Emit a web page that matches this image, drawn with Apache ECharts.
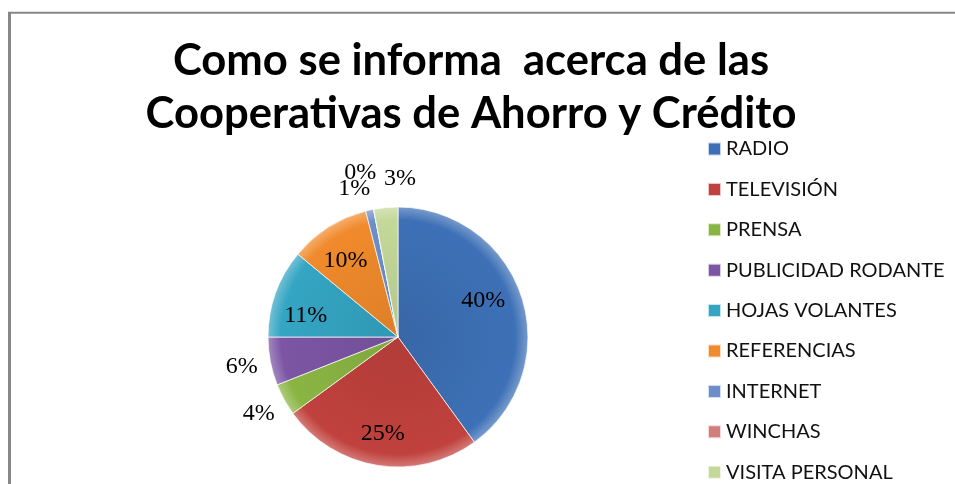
<!DOCTYPE html>
<html>
<head>
<meta charset="utf-8">
<script src="https://cdn.jsdelivr.net/npm/echarts@6/dist/echarts.min.js"></script>
<style>
  html, body { margin: 0; padding: 0; background: #fff; }
  #show_picture { width: 955px; height: 484px; }
</style>
</head>
<body>
<div id="show_picture"></div>
<script>
const categories = ['RADIO', 'TELEVISIÓN', 'PRENSA', 'PUBLICIDAD RODANTE', 'HOJAS VOLANTES',
  'REFERENCIAS', 'INTERNET', 'WINCHAS', 'VISITA PERSONAL'];
const percentages = [40, 25, 4, 6, 11, 10, 1, 0, 3];
const colors = ['#3d70b6', '#c0413d', '#8ab543', '#7c55a4', '#34a5c3',
  '#f08a2c', '#6d8ec9', '#d27e7c', '#c4d898'];
// which labels go outside the pie (small slices)
const outsideLabel = [false, false, true, true, false, false, true, true, true];

let show_picture = document.getElementById('show_picture');
let myChart = echarts.init(show_picture);

const cx = 398, cy = 337, R = 130;
const total = percentages.reduce((a, b) => a + b, 0);

function shade(hex, k) {
  let n = parseInt(hex.slice(1), 16);
  let r = (n >> 16) & 255, g = (n >> 8) & 255, b = n & 255;
  const f = c => Math.max(0, Math.min(255, Math.round(k > 0 ? c + (255 - c) * k : c * (1 + k))));
  return 'rgb(' + f(r) + ',' + f(g) + ',' + f(b) + ')';
}

// move a label up (dy < 0) or down (dy > 0) with an empty rich line
function nudge(item, dy, pad) {
  let h = Math.abs(dy) * 2;
  if (dy) {
    item.label.formatter = dy > 0 ? '{s| }\n{d}%' : '{d}%\n{s| }';
    item.label.rich = { s: { lineHeight: h, fontSize: 1 } };
  }
  if (pad) item.label.padding = pad;
}

const serif = { fontFamily: 'Liberation Serif', fontSize: 24, color: '#000' };

let d = [];
let inner = [];
let outer = [];
let legendData = [];
for (let i = 0; i < categories.length; i++) {
  d.push({
    name: categories[i],
    value: percentages[i],
    itemStyle: {
      color: {
        type: 'radial', x: cx, y: cy, r: R, global: true,
        colorStops: [
          { offset: 0, color: shade(colors[i], -0.08) },
          { offset: 0.9, color: colors[i] },
          { offset: 1, color: shade(colors[i], 0.3) }
        ]
      }
    }
  });
  inner.push({ name: categories[i], value: percentages[i], label: { show: !outsideLabel[i] } });
  outer.push({ name: categories[i], value: percentages[i], label: { show: outsideLabel[i] } });
  legendData.push({ name: categories[i], itemStyle: { color: colors[i] } });
}
nudge(inner[0], -6, [0, 16, 0, 0]);
nudge(inner[4], 12);
nudge(inner[5], 6);
nudge(outer[8], 0, [0, 0, 0, 34]);

// a zero slice gets no label of its own, so WINCHAS shares the INTERNET label box
const winchasPct = Math.round(percentages[7] / total * 100);
outer[7].label.show = false;
outer[6].label = {
  show: true,
  padding: [0, 18, 0, 0],
  formatter: '{z|' + winchasPct + '%}\n{o|{d}%}\n{s| }',
  rich: {
    z: Object.assign({ lineHeight: 16, padding: [0, 0, 0, 12] }, serif),
    o: Object.assign({ lineHeight: 16 }, serif),
    s: { lineHeight: 2, fontSize: 1 }
  }
};

const labelFont = Object.assign({ position: 'inside', formatter: '{d}%' }, serif);

let option = {
  animation: false,
  color: colors,
  title: {
    text: 'Como se informa  acerca de las\nCooperativas de Ahorro y Crédito',
    left: 466,
    top: 29,
    textAlign: 'center',
    textStyle: {
      fontFamily: 'Lato',
      fontWeight: 'bold',
      fontSize: 43.6,
      lineHeight: 53,
      color: '#000'
    }
  },
  legend: {
    orient: 'vertical',
    left: 707,
    top: 139,
    padding: 0,
    itemWidth: 13,
    itemHeight: 13,
    itemGap: 20.4,
    icon: 'rect',
    data: legendData,
    textStyle: {
      fontFamily: 'Lato',
      fontSize: 20,
      lineHeight: 18,
      color: '#111'
    }
  },
  graphic: [
    { type: 'line', shape: { x1: 9.5, y1: 12, x2: 9.5, y2: 484 }, style: { stroke: '#878787', lineWidth: 3 } },
    { type: 'line', shape: { x1: 8, y1: 12.8, x2: 955, y2: 12.8 }, style: { stroke: '#878787', lineWidth: 2 } }
  ],
  series: [
    {
      name: 'Medio',
      type: 'pie',
      center: [cx, cy],
      radius: [0, R],
      startAngle: 90,
      clockwise: true,
      label: { show: false },
      labelLine: { show: false },
      itemStyle: { borderColor: 'rgba(255,255,255,0.7)', borderWidth: 1 },
      emphasis: { disabled: true },
      data: d
    },
    {
      type: 'pie',
      center: [cx, cy],
      radius: [60, R],
      startAngle: 90,
      silent: true,
      avoidLabelOverlap: false,
      itemStyle: { color: 'transparent' },
      label: labelFont,
      labelLine: { show: false },
      data: inner
    },
    {
      type: 'pie',
      center: [cx, cy],
      radius: [140, 172],
      startAngle: 90,
      silent: true,
      avoidLabelOverlap: false,
      itemStyle: { color: 'transparent' },
      label: labelFont,
      labelLine: { show: false },
      data: outer
    }
  ]
};

option && myChart.setOption(option);
</script>
</body>
</html>
